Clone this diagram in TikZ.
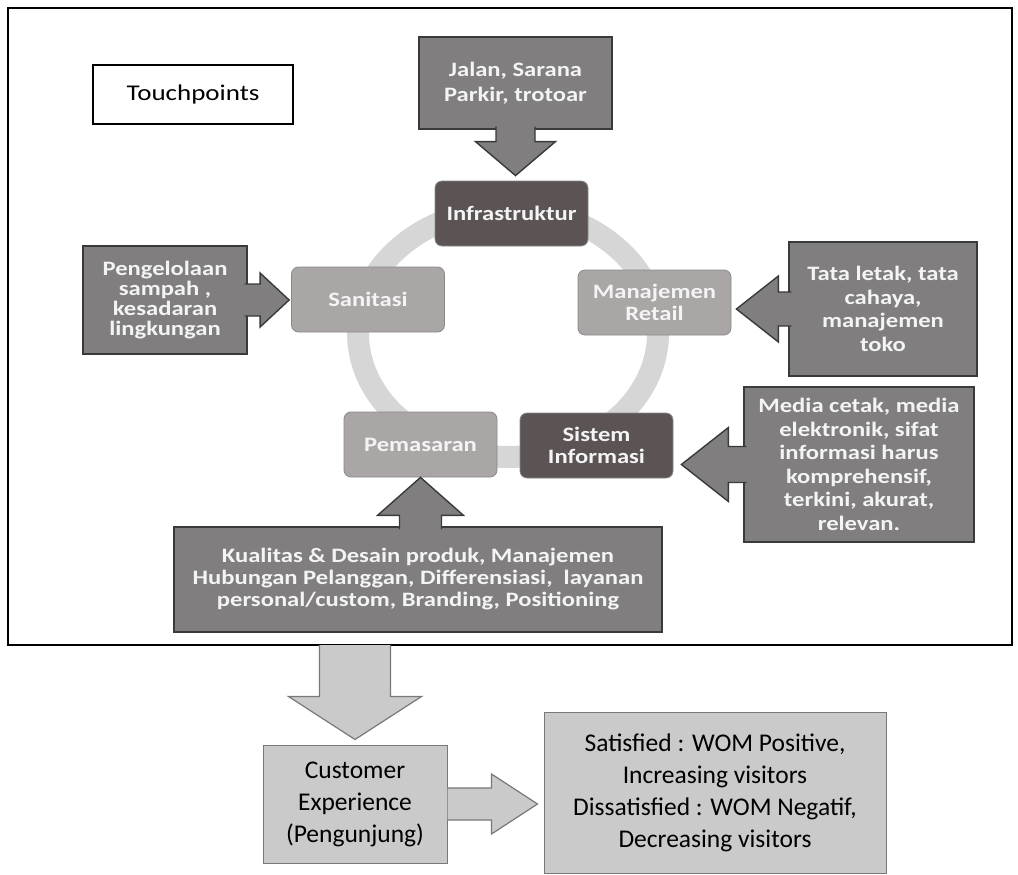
\documentclass[tikz,border=0pt]{standalone}
\usepackage{fontspec}
\setmainfont{Carlito}
\newfontfamily\widefont{Carlito}[FakeStretch=1.2]
\usetikzlibrary{calc}

\definecolor{boxgray}{RGB}{128,126,126}
\definecolor{boxedge}{RGB}{58,58,58}
\definecolor{darkfill}{RGB}{92,84,84}
\definecolor{lightfill}{RGB}{170,166,166}
\definecolor{ringgray}{RGB}{214,214,214}
\definecolor{palefill}{RGB}{202,202,202}
\definecolor{paleedge}{RGB}{120,120,120}
\definecolor{textwhite}{RGB}{244,244,244}

% block arrow: [style]{from}{to}{shaft half width}{head half width}{head length}
\newcommand{\blockarrow}[6][]{%
  \coordinate (ba-base) at ($(#3)!#6!(#2)$);
  \path[#1, draw=none] ($(#2)!#4!90:(#3)$) -- ($(ba-base)!#4!90:(#3)$)
    -- ($(ba-base)!#5!90:(#3)$) -- (#3) -- ($(ba-base)!#5!-90:(#3)$)
    -- ($(ba-base)!#4!-90:(#3)$) -- ($(#2)!#4!-90:(#3)$) -- cycle;
  \path[#1, fill=none] ($(#2)!#4!90:(#3)$) -- ($(ba-base)!#4!90:(#3)$)
    -- ($(ba-base)!#5!90:(#3)$) -- (#3) -- ($(ba-base)!#5!-90:(#3)$)
    -- ($(ba-base)!#4!-90:(#3)$) -- ($(#2)!#4!-90:(#3)$);
}
\newcommand{\boxfont}[1]{\widefont\bfseries\fontsize{20.5}{#1}\selectfont}

\begin{document}
\begin{tikzpicture}[x=1pt,y=-1pt,
    factor/.style={
% The shape:
rectangle,
% The colours:
fill=boxgray, draw=boxedge, line width=1.4pt,
% The text:
text=textwhite, align=center, inner sep=0pt,
font=\boxfont{23.5},
},
    cycle/.style={
% The shape:
rectangle, rounded corners=7pt,
% The border:
draw=boxedge!60, line width=0.8pt,
% The text:
text=textwhite, align=center, inner sep=0pt,
minimum width=153pt, minimum height=65pt,
font=\boxfont{22},
},
    outcome/.style={
% The shape:
rectangle,
% The colours:
fill=palefill, draw=paleedge, line width=1pt,
% The text:
align=center, inner sep=0pt,
font=\fontsize{25.5}{32}\selectfont,
},
    barrow/.style={fill=boxgray, draw=boxedge, line width=1.4pt, line join=miter},
    parrow/.style={fill=palefill, draw=paleedge, line width=1.2pt, line join=miter},
]
  \useasboundingbox (0,0) rectangle (1018,875);

  % frame of the touchpoints
  \coordinate (frame-nw) at (8,8);
  \coordinate (frame-se) at (1012,645);
  \draw[line width=2.2pt] (frame-nw) rectangle (frame-se);

  % the cycle
  \coordinate (ringc) at (508,333);
  \draw[ringgray, line width=22pt] (ringc) ellipse [x radius=150pt, y radius=124pt];

  \node[draw, line width=1.4pt, fill=white, minimum width=200pt, minimum height=59pt,
        font=\widefont\fontsize{22.5}{26}\selectfont] (touch) at (193,94.5) {Touchpoints};

  \node[cycle, fill=darkfill]  (infra)  at (511.5,213.5) {Infrastruktur};
  \node[cycle, fill=lightfill] (sanit)  at (368,299.5)   {Sanitasi};
  \node[cycle, fill=lightfill] (manaj)  at (654.5,302.5) {Manajemen\\Retail};
  \node[cycle, fill=lightfill] (pemas)  at (420.5,444.5) {Pemasaran};
  \node[cycle, fill=darkfill]  (sistem) at (596.5,445.5) {Sistem\\Informasi};

  \node[factor, minimum width=193pt, minimum height=92pt, font=\boxfont{25}] (jalan) at (515.5,83)
       {Jalan, Sarana\\Parkir, trotoar};
  \node[factor, minimum width=164pt, minimum height=108pt, font=\boxfont{20}] (pengel) at (165,300)
       {Pengelolaan\\sampah ,\\kesadaran\\lingkungan};
  \node[factor, minimum width=188pt, minimum height=134pt] (tata) at (883,309)
       {Tata letak, tata\\cahaya,\\manajemen\\toko};
  \node[factor, minimum width=230pt, minimum height=155pt] (media) at (859,464.5)
       {Media cetak, media\\elektronik, sifat\\informasi harus\\komprehensif,\\terkini, akurat,\\relevan.};
  \node[factor, minimum width=488pt, minimum height=105pt, font=\boxfont{22}] (kual) at (418,579.5)
       {Kualitas \& Desain produk, Manajemen\\Hubungan Pelanggan, Differensiasi,\ \ layanan\\personal/custom, Branding, Positioning};

  \node[outcome, minimum width=184pt, minimum height=118pt] (cust) at (355,804)
       {Customer\\Experience\\(Pengunjung)};
  \node[outcome, minimum width=342pt, minimum height=161pt] (result) at (715,792.5)
       {Satisfied : WOM Positive,\\Increasing visitors\\Dissatisfied : WOM Negatif,\\Decreasing visitors};

  % arrows into the cycle
  \coordinate (j-out)  at ([yshift=3pt]jalan.south);
  \coordinate (i-in)   at ([yshift=5pt]jalan.south |- infra.north);
  \coordinate (p-out)  at ([xshift=-3pt]pengel.east);
  \coordinate (s-in)   at ([xshift=-2pt]pengel.east -| sanit.west);
  \coordinate (t-out)  at ([xshift=3pt]tata.west);
  \coordinate (m-in)   at ([xshift=5pt]tata.west -| manaj.east);
  \coordinate (md-out) at ([xshift=3pt]media.west);
  \coordinate (si-in)  at ([xshift=8pt]media.west -| sistem.east);
  \coordinate (k-out)  at ([yshift=-3pt]kual.north -| pemas.south);
  \blockarrow[barrow]{j-out}{i-in}{19.5pt}{40pt}{34pt}
  \blockarrow[barrow]{p-out}{s-in}{16pt}{27pt}{29pt}
  \blockarrow[barrow]{t-out}{m-in}{17pt}{33pt}{42pt}
  \blockarrow[barrow]{md-out}{si-in}{18pt}{37pt}{47pt}
  \blockarrow[barrow]{k-out}{pemas.south}{21pt}{43pt}{38pt}

  % arrows to the outcome
  \coordinate (f-out) at (cust.north |- frame-se);
  \coordinate (c-in)  at ([yshift=5pt]cust.north);
  \coordinate (r-in)  at ([xshift=-6pt]cust.east -| result.west);
  \blockarrow[parrow]{f-out}{c-in}{35.5pt}{66.5pt}{43pt}
  \blockarrow[parrow]{cust.east}{r-in}{16pt}{30pt}{46pt}

\end{tikzpicture}
\end{document}
